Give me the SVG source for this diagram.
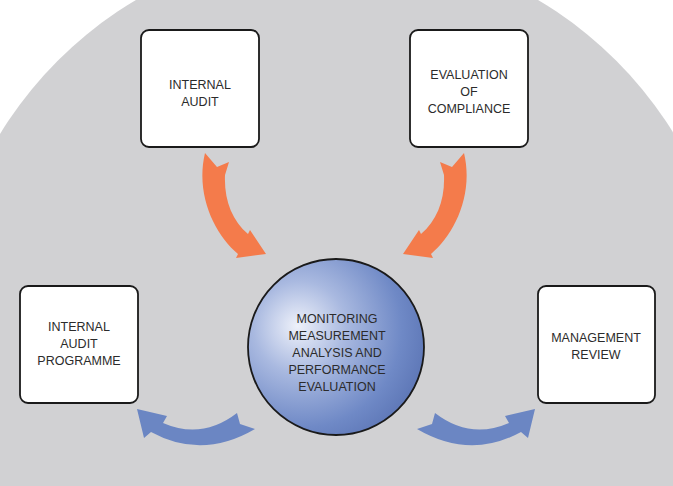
<svg xmlns="http://www.w3.org/2000/svg" width="673" height="486" viewBox="0 0 673 486">
<defs>
<radialGradient id="sphere" cx="0.32" cy="0.4" r="0.75" fx="0.28" fy="0.38">
<stop offset="0" stop-color="#eef1fa"/>
<stop offset="0.35" stop-color="#a9b9e0"/>
<stop offset="0.75" stop-color="#6f89c6"/>
<stop offset="1" stop-color="#5a73b3"/>
</radialGradient>
<path id="orangeArrow" d="M205,153 L217,167 L229,162 L225,175 C224,200 232,220 248,234 L250,230 L266,254 L236,258 L238,254 C215,235 195,195 205,153 Z"/>
<path id="blueArrow" d="M435,413 Q470,440 509,423 L505,416 L535,409 L528,438 L521,432 Q470,460 417,429 L432,424 Z"/>
</defs>
<style>
.box{fill:#ffffff;stroke:#1a1a1a;stroke-width:1.8}
.lbl{font-family:"Liberation Sans",Arial,sans-serif;font-size:12.5px;fill:#2b2b2b;text-anchor:middle}
.orange{fill:#f47b4b}
.blue{fill:#6b86c3}
</style>
<rect width="673" height="486" fill="#ffffff"/>
<circle cx="337" cy="340" r="395" fill="#d1d1d3"/>
<g id="connectors">
<use href="#orangeArrow" class="orange"/>
<use href="#orangeArrow" class="orange" transform="translate(669,0) scale(-1,1)"/>
<use href="#blueArrow" class="blue"/>
<use href="#blueArrow" class="blue" transform="translate(672,0) scale(-1,1)"/>
</g>
<g id="internal-audit">
<rect class="box" x="141" y="30" width="118" height="117" rx="8"/>
<text class="lbl" x="200" y="88.5">INTERNAL</text>
<text class="lbl" x="200" y="106">AUDIT</text>
</g>
<g id="evaluation-of-compliance">
<rect class="box" x="410" y="30" width="118" height="117" rx="8"/>
<text class="lbl" x="469" y="79">EVALUATION</text>
<text class="lbl" x="469" y="96">OF</text>
<text class="lbl" x="469" y="113">COMPLIANCE</text>
</g>
<g id="internal-audit-programme">
<rect class="box" x="20" y="286" width="118" height="117" rx="8"/>
<text class="lbl" x="79" y="331">INTERNAL</text>
<text class="lbl" x="79" y="348">AUDIT</text>
<text class="lbl" x="79" y="365">PROGRAMME</text>
</g>
<g id="management-review">
<rect class="box" x="538" y="286" width="117" height="117" rx="8"/>
<text class="lbl" x="596" y="342">MANAGEMENT</text>
<text class="lbl" x="596" y="359">REVIEW</text>
</g>
<g id="monitoring">
<circle cx="336" cy="347" r="88" fill="url(#sphere)" stroke="#1a1a1a" stroke-width="1.8"/>
<text class="lbl" x="337" y="323">MONITORING</text>
<text class="lbl" x="337" y="340">MEASUREMENT</text>
<text class="lbl" x="337" y="357">ANALYSIS AND</text>
<text class="lbl" x="337" y="374">PERFORMANCE</text>
<text class="lbl" x="337" y="391">EVALUATION</text>
</g>
</svg>
